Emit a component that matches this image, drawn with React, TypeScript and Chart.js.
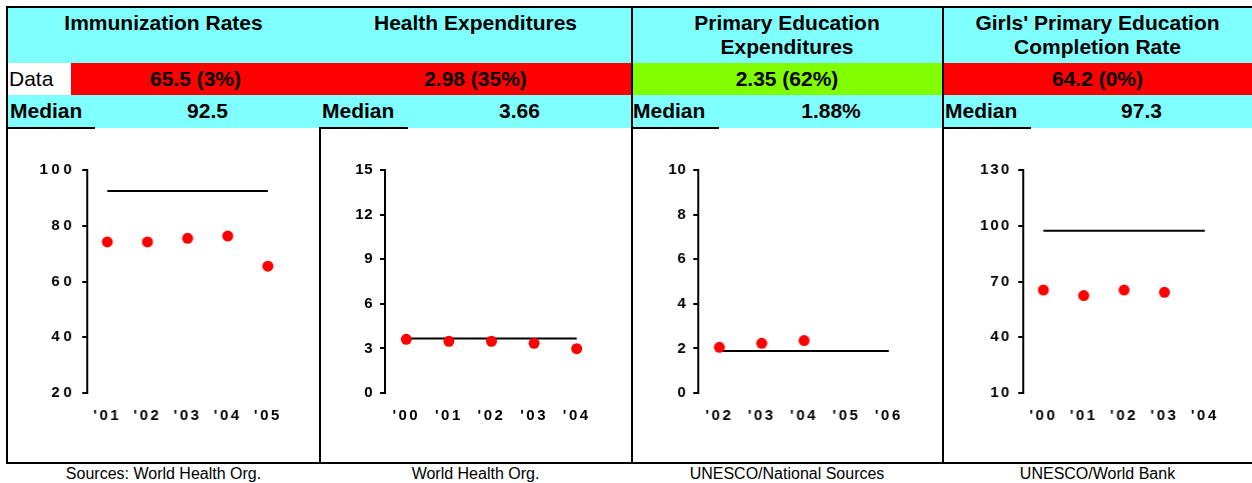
import React, { useEffect, useRef } from 'react';
import { Chart, registerables } from 'chart.js';

Chart.register(...registerables);

const FONT = "'Liberation Sans', Arial, Helvetica, sans-serif";

// ---------- text content ----------
const titles = [
  'Immunization Rates',
  'Health Expenditures',
  'Primary Education\nExpenditures',
  "Girls' Primary Education\nCompletion Rate",
];
const dataTexts = ['65.5 (3%)', '2.98 (35%)', '2.35 (62%)', '64.2 (0%)'];
const dataColors = ['#FF0000', '#FF0000', '#80FF00', '#FF0000'];
const medianTexts = ['92.5', '3.66', '1.88%', '97.3'];
const sources = [
  'Sources: World Health Org.',
  'World Health Org.',
  'UNESCO/National Sources',
  'UNESCO/World Bank',
];

// ---------- chart data ----------
const immunYears = ["'01", "'02", "'03", "'04", "'05"];
const immunValues = [74.2, 74.2, 75.5, 76.3, 65.5];
const immunMedian = [92.5, 92.5, 92.5, 92.5, 92.5];
const immunTicks = [20, 40, 60, 80, 100];

const healthYears = ["'00", "'01", "'02", "'03", "'04"];
const healthValues = [3.61, 3.48, 3.48, 3.34, 2.98];
const healthMedian = [3.66, 3.66, 3.66, 3.66, 3.66];
const healthTicks = [0, 3, 6, 9, 12, 15];

const eduYears = ["'02", "'03", "'04", "'05", "'06"];
const eduValues = [2.05, 2.23, 2.35, null, null];
const eduMedian = [1.88, 1.88, 1.88, 1.88, 1.88];
const eduTicks = [0, 2, 4, 6, 8, 10];

const girlsYears = ["'00", "'01", "'02", "'03", "'04"];
const girlsValues = [65.4, 62.4, 65.4, 64.2, null];
const girlsMedian = [97.3, 97.3, 97.3, 97.3, 97.3];
const girlsTicks = [10, 40, 70, 100, 130];

// ---------- layout ----------
const panelX = [
  [7, 320],
  [320, 631],
  [631, 943],
  [943, 1252],
];
const chartLayout = [
  { axisX: 87, plotW: 200.5, ySpacing: 3.5 },
  { axisX: 385, plotW: 213, ySpacing: 0.5 },
  { axisX: 698, plotW: 211.5, ySpacing: 0.5 },
  { axisX: 1023, plotW: 201.5, ySpacing: 2 },
];
const chartSeries = [
  { labels: immunYears, values: immunValues, median: immunMedian, ticks: immunTicks },
  { labels: healthYears, values: healthValues, median: healthMedian, ticks: healthTicks },
  { labels: eduYears, values: eduValues, median: eduMedian, ticks: eduTicks },
  { labels: girlsYears, values: girlsValues, median: girlsMedian, ticks: girlsTicks },
];

const CYAN = '#80FFFF';
const Y_AXIS_W = 60;
const CANVAS_TOP = 128;
const CANVAS_H = 334;
const PAD_TOP = 42;
const PLOT_H = 223;

const spacingPlugin = {
  id: 'tickSpacing',
  afterUpdate(chart: any, _args: any, opts: any) {
    ['x', 'y'].forEach((id) => {
      const s: any = chart.scales[id];
      if (!s || s.__patched) return;
      const sp = (opts && opts[id]) || 0;
      const orig = s.drawLabels;
      s.drawLabels = function (ca: any) {
        const c: any = this.ctx;
        c.save();
        c.letterSpacing = sp + 'px';
        orig.call(this, ca);
        c.restore();
      };
      s.__patched = true;
    });
  },
};

function MiniChart({ idx }: { idx: number }) {
  const ref = useRef<HTMLCanvasElement>(null);
  const lay = chartLayout[idx];
  const ser = chartSeries[idx];
  const width = Y_AXIS_W + lay.plotW + 15;
  useEffect(() => {
    const tickFont = { family: FONT, size: 15, weight: 'bold' as const };
    const t = ser.ticks;
    const chart = new Chart(ref.current as HTMLCanvasElement, {
      type: 'line',
      data: {
        labels: ser.labels,
        datasets: [
          {
            data: ser.values as any,
            showLine: false,
            pointRadius: 5.5,
            pointHoverRadius: 5.5,
            pointBorderWidth: 0,
            pointBackgroundColor: '#FF0000',
            borderColor: '#FF0000',
            backgroundColor: '#FF0000',
          },
          {
            data: ser.median,
            borderColor: '#000000',
            borderWidth: 2,
            pointRadius: 0,
            fill: false,
            tension: 0,
          },
        ],
      },
      options: {
        animation: false,
        responsive: false,
        events: [],
        layout: { padding: { top: PAD_TOP, right: 15, left: 0, bottom: 0 } },
        plugins: {
          legend: { display: false },
          tooltip: { enabled: false },
          // @ts-ignore
          tickSpacing: { x: 2.5, y: lay.ySpacing },
        },
        scales: {
          x: {
            offset: true,
            grid: { display: false },
            border: { display: false },
            ticks: {
              color: '#000',
              font: tickFont,
              padding: 6,
              maxRotation: 0,
              autoSkip: false,
            },
            afterFit: (s: any) => {
              s.height = CANVAS_H - PAD_TOP - PLOT_H;
            },
          },
          y: {
            min: t[0],
            max: t[t.length - 1],
            ticks: {
              stepSize: t[1] - t[0],
              color: '#000',
              font: tickFont,
              padding: 7,
            },
            grid: {
              drawOnChartArea: false,
              drawTicks: true,
              tickLength: 5,
              color: '#000',
              lineWidth: 2,
            },
            border: { display: true, color: '#000', width: 2 },
            afterFit: (s: any) => {
              s.width = Y_AXIS_W;
            },
          },
        },
      },
      plugins: [spacingPlugin as any],
    });
    return () => chart.destroy();
  }, []);
  return (
    <canvas
      ref={ref}
      width={width}
      height={CANVAS_H}
      style={{ position: 'absolute', left: lay.axisX - Y_AXIS_W, top: CANVAS_TOP, width, height: CANVAS_H }}
    />
  );
}

const abs = (l: number, t: number, w: number, h: number, extra: any = {}) => ({
  position: 'absolute' as const,
  left: l,
  top: t,
  width: w,
  height: h,
  ...extra,
});

export default function App() {
  const els: any[] = [];
  // backgrounds
  els.push(<div key="titlebg" style={abs(8, 8, 1244, 55, { background: CYAN })} />);
  els.push(<div key="medbg" style={abs(8, 95, 1244, 33, { background: CYAN })} />);
  panelX.forEach(([l, r], i) => {
    const dl = i === 0 ? 71 : l;
    els.push(<div key={'dbg' + i} style={abs(dl, 63, r - dl, 32, { background: dataColors[i] })} />);
  });
  // text
  const bold = { fontFamily: FONT, fontWeight: 'bold', fontSize: 21, color: '#000' };
  panelX.forEach(([l, r], i) => {
    els.push(
      <div
        key={'title' + i}
        style={abs(l, 11, r - l, 50, { ...bold, lineHeight: '24px', textAlign: 'center', whiteSpace: 'pre' })}
      >
        {titles[i]}
      </div>,
    );
    const dl = i === 0 ? 71 : l;
    els.push(
      <div
        key={'data' + i}
        style={abs(dl, 63, r - dl, 32, { ...bold, lineHeight: '32px', textAlign: 'center' })}
      >
        {dataTexts[i]}
      </div>,
    );
    const labL = i === 0 ? 10 : l + 2;
    const cellR = l + 88;
    els.push(
      <div key={'medl' + i} style={abs(labL, 95, 90, 32, { ...bold, lineHeight: '32px' })}>
        Median
      </div>,
    );
    els.push(
      <div
        key={'medv' + i}
        style={abs(cellR, 95, r - cellR, 32, { ...bold, lineHeight: '32px', textAlign: 'center' })}
      >
        {medianTexts[i]}
      </div>,
    );
    els.push(<div key={'medu' + i} style={abs(l, 127, 88, 2, { background: '#000' })} />);
    els.push(
      <div
        key={'src' + i}
        style={abs(l, 464, r - l, 20, {
          fontFamily: FONT,
          fontSize: 16,
          lineHeight: '20px',
          textAlign: 'center',
          color: '#000',
        })}
      >
        {sources[i]}
      </div>,
    );
  });
  els.push(
    <div
      key="datalabel"
      style={abs(9, 63, 62, 32, { fontFamily: FONT, fontSize: 21, lineHeight: '32px', color: '#000' })}
    >
      Data
    </div>,
  );
  // borders
  const B = '#000';
  els.push(<div key="btop" style={abs(6, 6, 1246, 2, { background: B })} />);
  els.push(<div key="bleft" style={abs(6, 6, 2, 458, { background: B })} />);
  els.push(<div key="bbot" style={abs(6, 462, 1246, 2, { background: B })} />);
  els.push(<div key="d1" style={abs(319, 127, 2, 336, { background: B })} />);
  els.push(<div key="d2" style={abs(631, 6, 2, 458, { background: B })} />);
  els.push(<div key="d3" style={abs(942, 6, 2, 458, { background: B })} />);

  return (
    <div style={abs(0, 0, 1252, 483, { background: '#fff', overflow: 'hidden' })}>
      {els}
      {chartLayout.map((_, i) => (
        <MiniChart key={'c' + i} idx={i} />
      ))}
    </div>
  );
}
